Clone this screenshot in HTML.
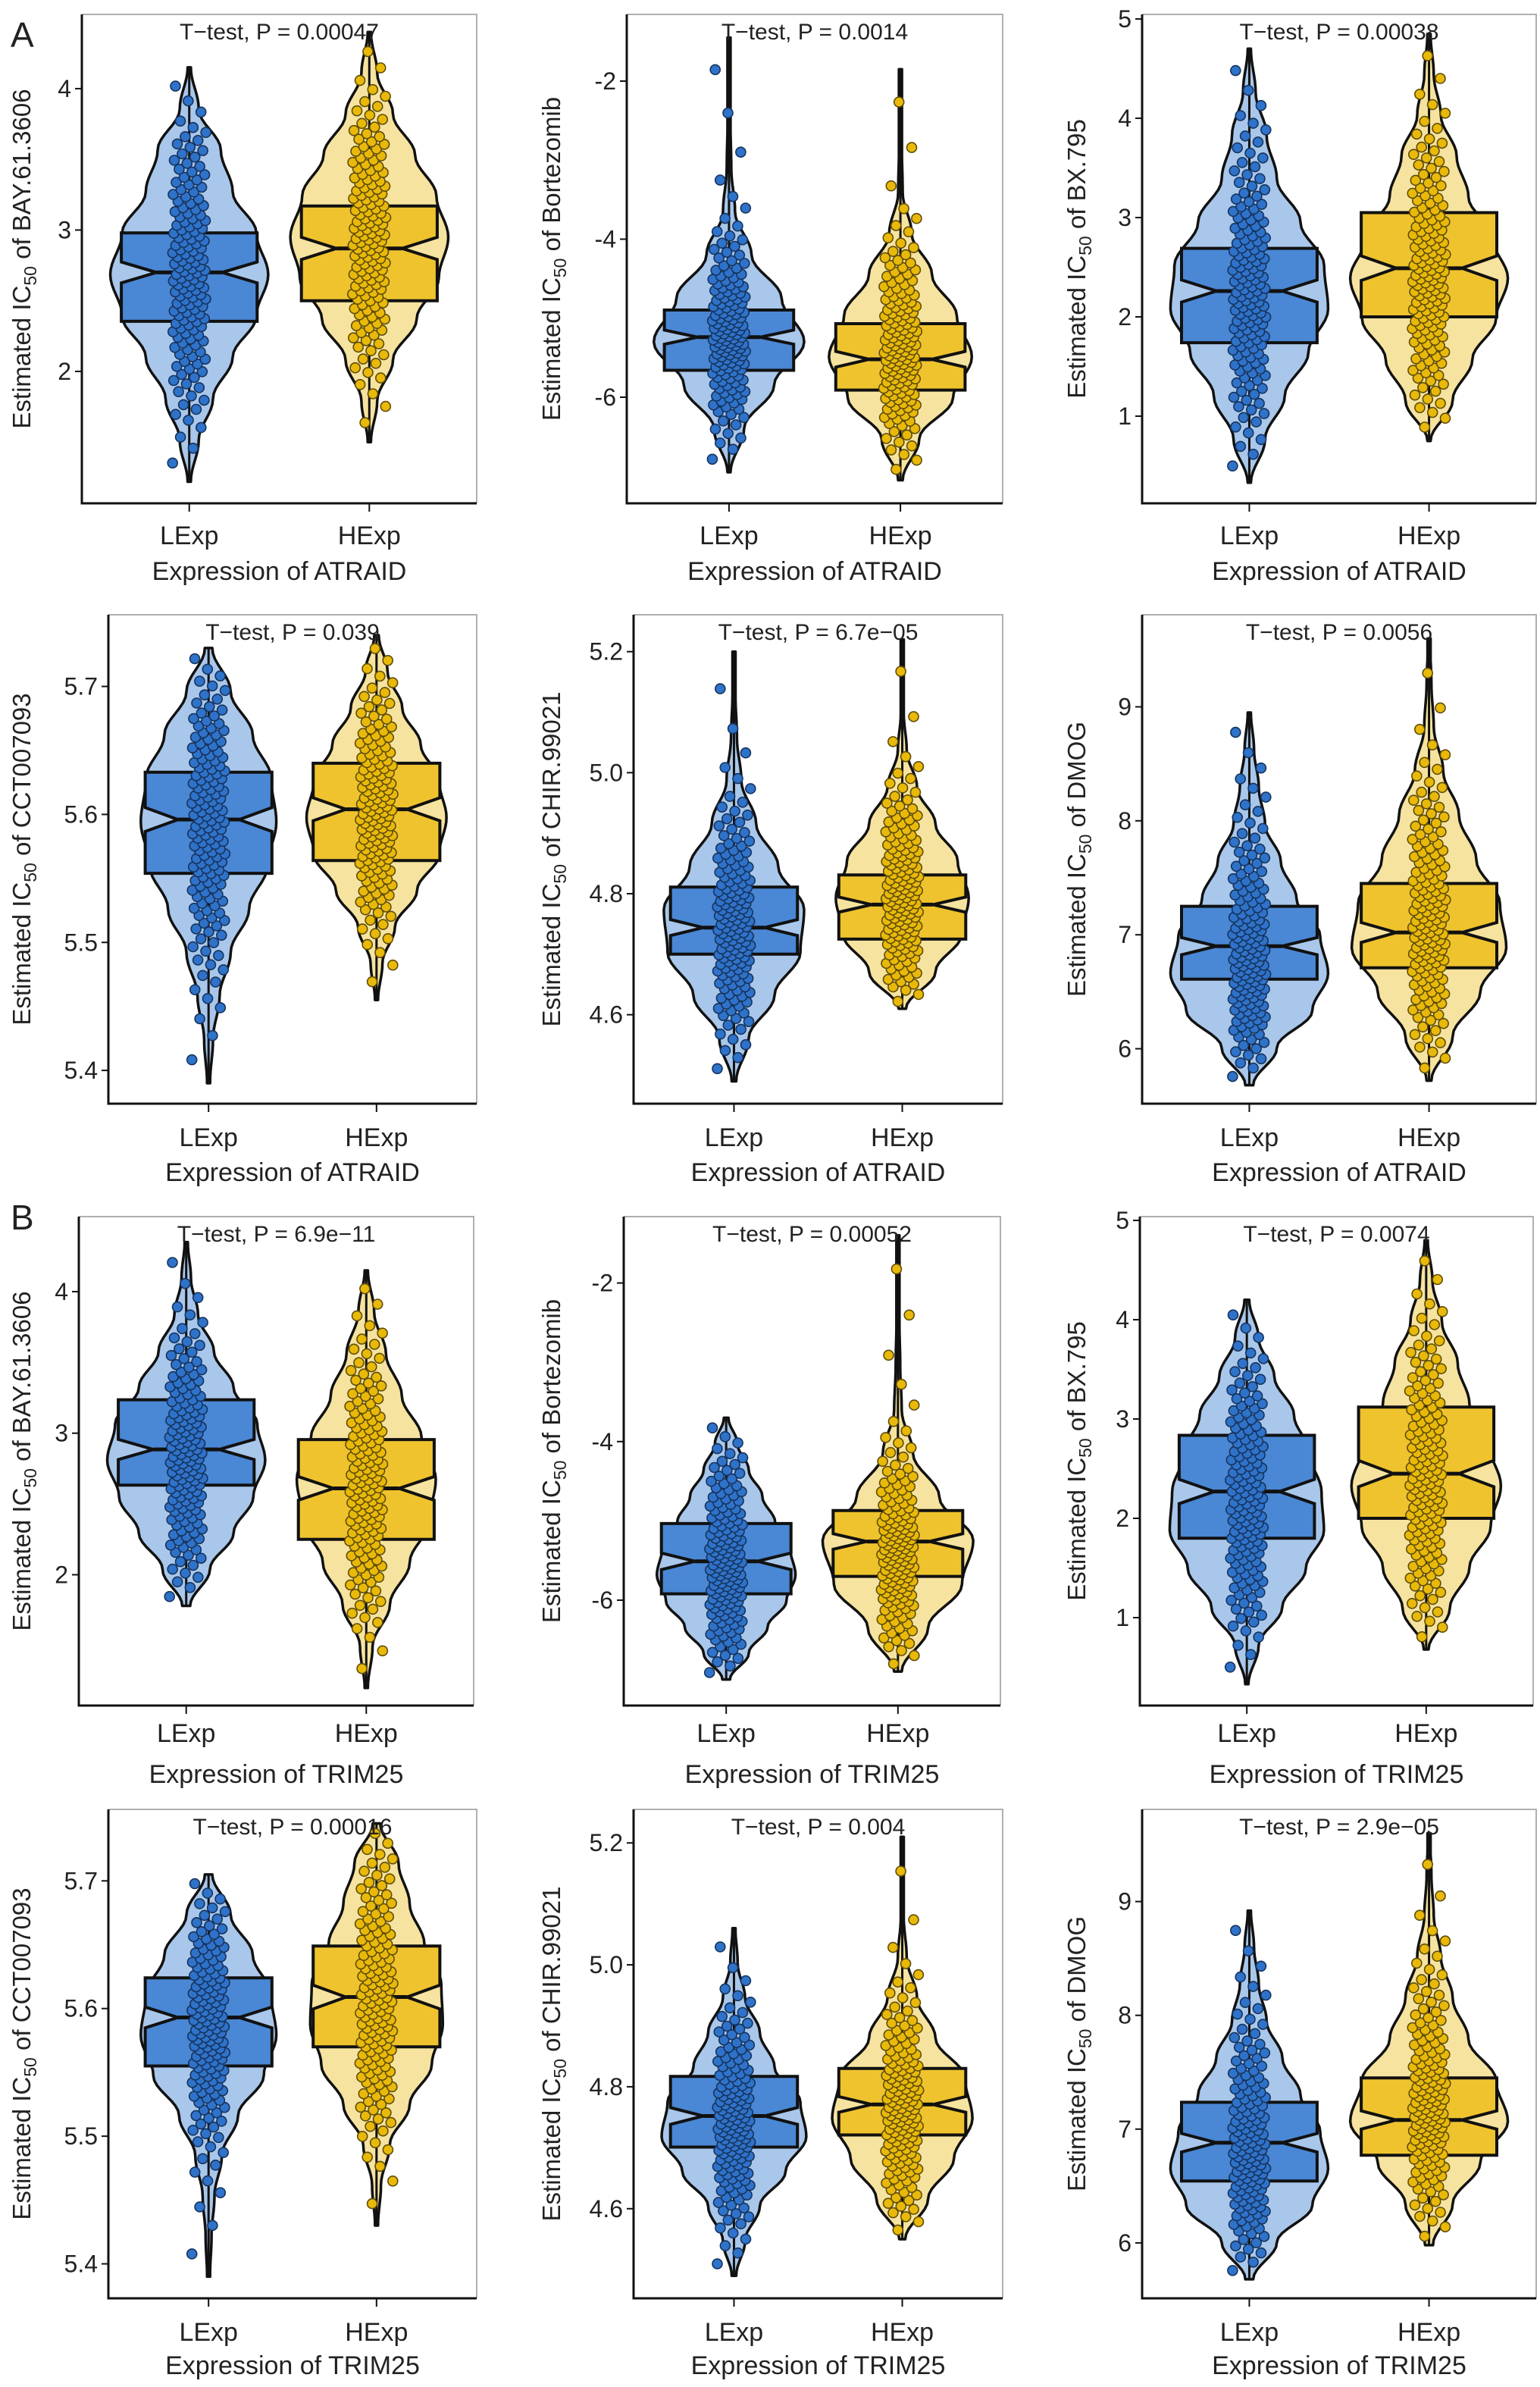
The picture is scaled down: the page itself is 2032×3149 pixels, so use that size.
<!DOCTYPE html>
<html><head><meta charset="utf-8">
<style>
html,body{margin:0;padding:0;background:#fff;}
svg{display:block;}
text{font-family:"Liberation Sans",Arial,sans-serif;fill:#222;}
</style></head>
<body>
<svg id="fig" width="2032" height="3149" viewBox="0 0 2032 3149" xmlns="http://www.w3.org/2000/svg">
<text x="14" y="62" font-size="46">A</text>
<text x="14" y="1622" font-size="46">B</text>
</svg>
<script>
// ---- data ----
const categories = ["LExp", "HExp"];
const drugs = ["BAY.61.3606","Bortezomib","BX.795","CCT007093","CHIR.99021","DMOG","BAY.61.3606","Bortezomib","BX.795","CCT007093","CHIR.99021","DMOG"];
const genes = ["ATRAID","ATRAID","ATRAID","ATRAID","ATRAID","ATRAID","TRIM25","TRIM25","TRIM25","TRIM25","TRIM25","TRIM25"];
const pLabels = ["0.00047","0.0014","0.00038","0.039","6.7e\u221205","0.0056","6.9e\u221211","0.00052","0.0074","0.00016","0.004","2.9e\u221205"];
const yDomains = [[1.067,4.525],[-7.343,-1.156],[0.122,5.046],[5.374,5.756],[4.453,5.261],[5.518,9.808],
                  [1.076,4.530],[-7.329,-1.163],[0.115,5.038],[5.373,5.756],[4.453,5.255],[5.513,9.81]];
const tickValues = [[2,3,4],[-6,-4,-2],[1,2,3,4,5],[5.4,5.5,5.6,5.7],[4.6,4.8,5.0,5.2],[6,7,8,9],
                    [2,3,4],[-6,-4,-2],[1,2,3,4,5],[5.4,5.5,5.6,5.7],[4.6,4.8,5.0,5.2],[6,7,8,9]];
const tickLabels = [["2","3","4"],["-6","-4","-2"],["1","2","3","4","5"],["5.4","5.5","5.6","5.7"],["4.6","4.8","5.0","5.2"],["6","7","8","9"],
                    ["2","3","4"],["-6","-4","-2"],["1","2","3","4","5"],["5.4","5.5","5.6","5.7"],["4.6","4.8","5.0","5.2"],["6","7","8","9"]];
const rangeL = [[1.22,4.15],[-6.95,-1.45],[0.33,4.7],[5.39,5.73],[4.49,5.2],[5.68,8.95],[1.78,4.35],[-7.0,-3.7],[0.33,4.2],[5.39,5.705],[4.49,5.06],[5.68,8.92]];
const rangeH = [[1.5,4.4],[-7.05,-1.85],[0.75,4.85],[5.455,5.74],[4.61,5.22],[5.72,9.6],[1.2,4.15],[-6.9,-1.4],[0.68,4.8],[5.43,5.745],[4.55,5.21],[5.98,9.6]];
const densL = [
 [.02,.12,.3,.55,.85,1.0,.85,.55,.4,.12,.02],
 [.02,.2,.6,1.0,.7,.3,.08,.03,.02,.02,.01],
 [.02,.2,.45,.75,1.0,.95,.65,.35,.22,.08,.02],
 [.02,.06,.15,.3,.55,.8,.92,.85,.6,.3,.05],
 [.03,.2,.55,.9,.95,.6,.3,.1,.04,.02,.01],
 [.05,.35,.8,1.0,.9,.6,.4,.2,.12,.06,.02],
 [.05,.3,.6,.85,1.0,.9,.6,.35,.15,.06,.02],
 [.05,.3,.55,.8,.92,.85,.65,.48,.3,.15,.03],
 [.02,.15,.45,.75,.98,.95,.8,.6,.35,.15,.03],
 [.02,.04,.08,.18,.4,.75,.92,.85,.6,.3,.05],
 [.03,.15,.35,.7,.98,.9,.55,.35,.15,.05,.02],
 [.05,.35,.8,1.0,.9,.65,.42,.22,.12,.06,.02]];
const densH = [
 [.02,.1,.3,.6,.88,1.0,.85,.58,.3,.1,.02],
 [.03,.25,.7,.95,.75,.42,.15,.03,.02,.02,.01],
 [.02,.3,.55,.85,1.0,.8,.5,.35,.15,.06,.02],
 [.02,.08,.25,.55,.85,.95,.85,.6,.35,.15,.03],
 [.05,.45,.8,.9,.75,.45,.2,.06,.02,.02,.01],
 [.03,.3,.65,.98,.9,.6,.38,.18,.06,.03,.01],
 [.02,.08,.3,.55,.8,.88,.7,.45,.25,.1,.02],
 [.05,.4,.85,1.0,.55,.2,.05,.03,.02,.02,.01],
 [.03,.3,.55,.82,.95,.8,.55,.4,.2,.08,.02],
 [.02,.06,.18,.45,.75,.9,.88,.65,.45,.3,.05],
 [.04,.35,.7,.95,.85,.45,.2,.06,.02,.02,.01],
 [.05,.3,.65,1.0,.85,.5,.3,.15,.06,.03,.01]];
const boxL = [[2.354,2.70,2.98],[-5.66,-5.24,-4.897],[1.74,2.26,2.69],[5.554,5.596,5.633],[4.70,4.744,4.811],[6.61,6.90,7.25],
              [2.633,2.885,3.236],[-5.92,-5.51,-5.034],[1.80,2.27,2.836],[5.555,5.593,5.624],[4.701,4.752,4.817],[6.544,6.88,7.236]];
const boxH = [[2.50,2.87,3.17],[-5.91,-5.52,-5.07],[2.0,2.49,3.05],[5.564,5.604,5.640],[4.725,4.782,4.831],[6.71,7.02,7.45],
              [2.25,2.61,2.955],[-5.70,-5.26,-4.87],[2.0,2.45,3.12],[5.570,5.609,5.649],[4.721,4.771,4.830],[6.77,7.08,7.45]];
const nPoints = 150;

// ---- layout ----
const rowsY = [[19,664,718,765],[811,1456,1512,1558],[1605,2250,2298,2352],[2387,3032,3088,3132]];
const rowsX = [[[108,629],[827,1323],[1507,2027]],[[143,629],[836,1323],[1507,2027]],
               [[104,625],[823,1320],[1504,2023]],[[143,629],[836,1323],[1507,2027]]];
const yTitleX = [28,727,1420];
const COL = {L:{violin:"#a9c7ea",box:"#4a87d4",dot:"#2f72c9",dotStroke:"#16335c"},
             H:{violin:"#f6e39f",box:"#efc32e",dot:"#e9b90a",dotStroke:"#5e4c0a"}};

const svg = document.getElementById('fig');
const NS = "http://www.w3.org/2000/svg";
function mk(tag, attrs, parent){ const e=document.createElementNS(NS,tag); for(const k in attrs) e.setAttribute(k,attrs[k]); (parent||svg).appendChild(e); return e; }

function densAt(dens, t){
  const f=t*10, i=Math.min(9,Math.floor(f)), u=f-i;
  const s=(1-Math.cos(Math.PI*u))/2;
  return dens[i]*(1-s)+dens[i+1]*s;
}
function quantilesFrom(dens, lo, hi, n){
  const M=400, cdf=[0];
  for(let k=1;k<=M;k++){ cdf.push(cdf[k-1]+densAt(dens,(k-0.5)/M)); }
  const tot=cdf[M], out=[];
  let k=0;
  for(let i=0;i<n;i++){
    const q=(i+0.5)/n*tot;
    while(k<M && cdf[k+1]<q) k++;
    const u=(q-cdf[k])/Math.max(1e-9,cdf[k+1]-cdf[k]);
    out.push(lo+(hi-lo)*(k+u)/M);
  }
  return out;
}

for(let p=0;p<12;p++){
  const r=Math.floor(p/3), c=p%3;
  const [top,bottom,catY,titY]=rowsY[r];
  const [left,right]=rowsX[r][c];
  const w=right-left;
  const [d0,d1]=yDomains[p];
  const y=v=>bottom-(v-d0)/(d1-d0)*(bottom-top);
  const xc=[left+0.272*w,left+0.728*w];
  const g=mk('g',{});
  
  

  const fr=mk('path',{d:`M${left} ${top}H${right}V${bottom}`,fill:'none',stroke:'#b0b0b0','stroke-width':2},g);
   
  const ax=mk('path',{d:`M${left} ${top}V${bottom}H${right}`,fill:'none',stroke:'#111','stroke-width':3},g);
   

  tickValues[p].forEach((tv,i)=>{
    const ty=y(tv);
    const t=mk('line',{x1:left-9,x2:left,y1:ty,y2:ty,stroke:'#111','stroke-width':2},g);
     
    const lb=mk('text',{x:left-14,y:ty+11,'font-size':32,'text-anchor':'end'},g);
    lb.textContent=tickLabels[p][i];
     
  });

  ['L','H'].forEach((k,gi)=>{
    const cx=xc[gi];
    const [lo,hi]= k==='L'?rangeL[p]:rangeH[p];
    const dens= k==='L'?densL[p]:densH[p];
    const [q1,med,q3]= k==='L'?boxL[p]:boxH[p];
    const col=COL[k];
    const W=0.2*w, BW=0.172*w, IW=0.083*w;
    const N=80; let ptsR=[],ptsL=[];
    for(let i=0;i<=N;i++){
      const t=i/N, v=lo+(hi-lo)*t, hw=Math.max(2,densAt(dens,t)*W);
      ptsR.push(`${(cx+hw).toFixed(1)},${y(v).toFixed(1)}`);
      ptsL.unshift(`${(cx-hw).toFixed(1)},${y(v).toFixed(1)}`);
    }
    const vi=mk('polygon',{points:ptsR.concat(ptsL).join(' '),fill:col.violin,stroke:'#111','stroke-width':3.5,'stroke-linejoin':'round'},g);
     
    const wl=mk('line',{x1:cx,x2:cx,y1:y(lo),y2:y(hi),stroke:'#111','stroke-width':3},g);
     
    const n=0.118*(q3-q1);
    const bp=[[cx-BW,y(q3)],[cx+BW,y(q3)],[cx+BW,y(med+n)],[cx+IW,y(med)],[cx+BW,y(med-n)],[cx+BW,y(q1)],
              [cx-BW,y(q1)],[cx-BW,y(med-n)],[cx-IW,y(med)],[cx-BW,y(med+n)]].map(a=>a[0].toFixed(1)+','+a[1].toFixed(1)).join(' ');
    const bx=mk('polygon',{points:bp,fill:col.box,stroke:'#111','stroke-width':4,'stroke-linejoin':'miter'},g);
     
    const md=mk('line',{x1:cx-IW,x2:cx+IW,y1:y(med),y2:y(med),stroke:'#111','stroke-width':5},g);
     
    const vals=quantilesFrom(dens,lo,hi,nPoints);
    const pg=mk('g',{},g);
     
    vals.forEach((v,i)=>{
      const j=((i*0.6180339887+0.37*gi)%1)*2-1;
      const d=mk('circle',{cx:(cx+j*22).toFixed(1),cy:y(v).toFixed(1),r:6.5,fill:col.dot,stroke:col.dotStroke,'stroke-width':1.6},pg);
       
    });
    const xt=mk('line',{x1:cx,x2:cx,y1:bottom,y2:bottom+11,stroke:'#111','stroke-width':2},g);
     
    const xl=mk('text',{x:cx,y:catY,'font-size':34,'text-anchor':'middle'},g);
    xl.textContent=categories[gi];
     
  });

  const pt=mk('text',{x:(left+right)/2,y:top+33,'font-size':30,'text-anchor':'middle'},g);
  pt.textContent='T\u2212test, P = '+pLabels[p];
   
  const xtl=mk('text',{x:(left+right)/2,y:titY,'font-size':34,'text-anchor':'middle'},g);
  xtl.textContent='Expression of '+genes[p];
   
  const yx=yTitleX[c], yy=(top+bottom)/2;
  const yt=mk('text',{x:0,y:0,'font-size':33,'text-anchor':'middle',transform:`translate(${yx+12},${yy}) rotate(-90)`},g);
   
  const s1=mk('tspan',{},yt); s1.textContent='Estimated IC';
  const s2=mk('tspan',{'font-size':23,dy:8},yt); s2.textContent='50';
  const s3=mk('tspan',{dy:-8},yt); s3.textContent=' of '+drugs[p];
}
</script>
</body></html>
